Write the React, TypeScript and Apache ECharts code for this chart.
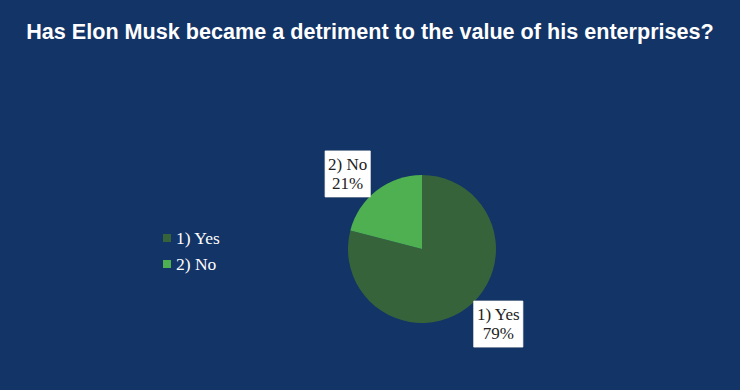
import React, { useEffect, useRef } from "react";
import * as echarts from "echarts";

const titleText = "Has Elon Musk became a detriment to the value of his enterprises?";
const categories = ["1) Yes", "2) No"];
const values = [79, 21];
const colors = ["#36633a", "#4fb052"];

export default function App() {
  const ref = useRef<HTMLDivElement>(null);
  useEffect(() => {
    document.body.style.margin = "0";
    const chart = echarts.init(ref.current!, null, { renderer: "svg" });
    chart.setOption({
      animation: false,
      backgroundColor: "#133466",
      title: {
        text: titleText,
        left: "center",
        top: 15,
        textStyle: {
          color: "#ffffff",
          fontFamily: "Liberation Sans, Arial, sans-serif",
          fontWeight: "bold",
          fontSize: 21.6,
        },
      },
      legend: {
        orient: "vertical",
        left: 163,
        top: 229,
        padding: 0,
        itemWidth: 8,
        itemHeight: 8,
        itemGap: 8,
        icon: "rect",
        textStyle: {
          color: "#ffffff",
          fontFamily: "Liberation Serif, Times New Roman, serif",
          fontSize: 17.5,
          lineHeight: 18,
        },
        data: categories,
      },
      series: [
        {
          type: "pie",
          center: [422, 249],
          radius: 74,
          startAngle: 90,
          clockwise: true,
          data: categories.map((c, i) => ({
            name: c,
            value: values[i],
            itemStyle: { color: colors[i] },
          })),
          label: {
            show: true,
            position: "outside",
            formatter: "{c|{b}}\n{c|{d}%}",
            backgroundColor: "#ffffff",
            borderColor: "#d0d0d0",
            borderWidth: 0.5,
            padding: [4, 3, 4, 3],
            rich: {
              c: {
                align: "center",
                color: "#222222",
                fontFamily: "Liberation Serif, Times New Roman, serif",
                fontSize: 17,
                lineHeight: 19,
              },
            },
          },
          labelLine: { show: false, length: 21, length2: 0 },
          labelLayout: (params: any) => ({
            dx: params.align === "left" ? -11.5 : 11.5,
          }),
        },
      ],
    });
    return () => chart.dispose();
  }, []);
  return <div ref={ref} style={{ width: 740, height: 390 }} />;
}
